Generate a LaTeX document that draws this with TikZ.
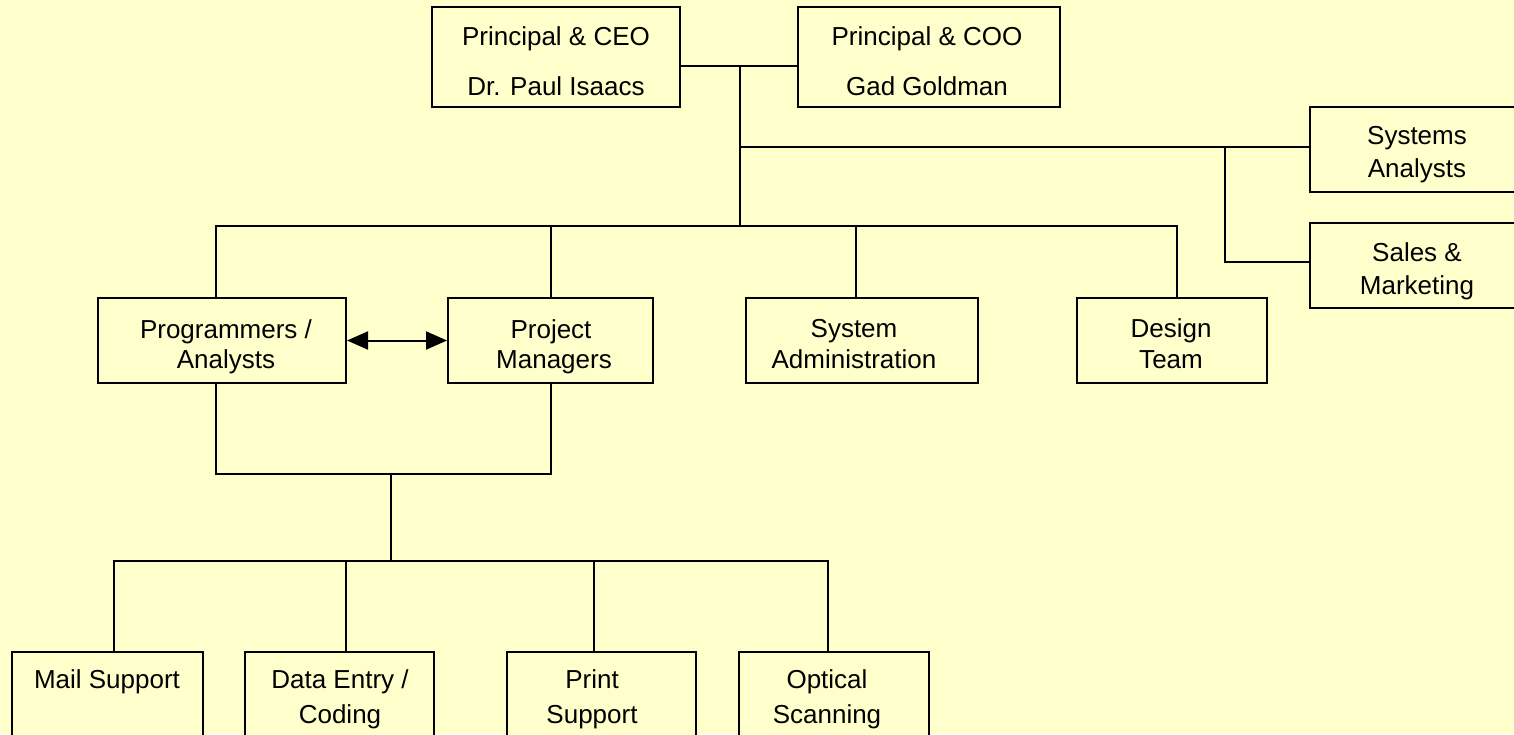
\documentclass[tikz,border=0pt]{standalone}
\usepackage{fontspec}
\setmainfont{Liberation Sans}
\usetikzlibrary{arrows.meta}
\definecolor{bg}{RGB}{255,255,204}
\begin{document}
\begin{tikzpicture}[x=0.5pt,y=-0.5pt,
  obox/.style={draw, line width=1pt, rectangle, inner sep=0pt, fill=bg},
  txt/.style={anchor=base, inner sep=0pt, font=\fontsize{13}{15}\selectfont},
  conn/.style={line width=1pt, line cap=rect}]
\fill[bg] (0,0) rectangle (1514,734);
\useasboundingbox (0,0) rectangle (1514,734);
% boxes
\node[obox, minimum width=124pt, minimum height=50pt] (ceo) at (556,57) {};
\node[obox, minimum width=131pt, minimum height=50pt] (coo) at (929,57) {};
\node[obox, minimum width=107pt, minimum height=42.5pt] (sysan) at (1417,149.5) {};
\node[obox, minimum width=107pt, minimum height=42.5pt] (sales) at (1417,265.5) {};
\node[obox, minimum width=124pt, minimum height=42.5pt] (pa) at (222,340.5) {};
\node[obox, minimum width=102.5pt, minimum height=42.5pt] (pm) at (550.5,340.5) {};
\node[obox, minimum width=116pt, minimum height=42.5pt] (sa) at (862,340.5) {};
\node[obox, minimum width=95pt, minimum height=42.5pt] (dt) at (1172,340.5) {};
\node[obox, minimum width=95.5pt, minimum height=59pt] (mail) at (107.5,711) {};
\node[obox, minimum width=94.5pt, minimum height=59pt] (data) at (339.5,711) {};
\node[obox, minimum width=94.5pt, minimum height=59pt] (print) at (601.5,711) {};
\node[obox, minimum width=95pt, minimum height=59pt] (optical) at (834,711) {};
% junctions
\coordinate (j0) at (740,66);
\coordinate (j1) at (740,147);
\coordinate (j2) at (740,226);
\coordinate (j3) at (1225,147);
\coordinate (j4) at (1225,262);
\coordinate (t1) at (216,226);
\coordinate (t2) at (551,226);
\coordinate (t3) at (856,226);
\coordinate (t4) at (1177,226);
\coordinate (b1) at (216,474);
\coordinate (b2) at (551,474);
\coordinate (m1) at (391,474);
\coordinate (m2) at (391,561);
\coordinate (l1) at (114,561);
\coordinate (l2) at (346,561);
\coordinate (l3) at (594,561);
\coordinate (l4) at (828,561);
% connectors
\draw[conn] (ceo.east |- j0) -- (coo.west |- j0);
\draw[conn] (j0) -- (j2);
\draw[conn] (j1) -- (sysan.west |- j1);
\draw[conn] (j3) -- (j4) -- (sales.west |- j4);
\draw[conn] (t1) -- (t4);
\draw[conn] (t1) -- (t1 |- pa.north);
\draw[conn] (t2) -- (t2 |- pm.north);
\draw[conn] (t3) -- (t3 |- sa.north);
\draw[conn] (t4) -- (t4 |- dt.north);
\draw[conn] (b1 |- pa.south) -- (b1) -- (b2) -- (b2 |- pm.south);
\draw[conn] (m1) -- (m2);
\draw[conn] (l1) -- (l4);
\draw[conn] (l1) -- (l1 |- mail.north);
\draw[conn] (l2) -- (l2 |- data.north);
\draw[conn] (l3) -- (l3 |- print.north);
\draw[conn] (l4) -- (l4 |- optical.north);
\draw[line width=1pt, {Triangle[length=10.5pt,width=9pt]}-{Triangle[length=10.5pt,width=9pt]}] (pa.east) -- (pm.west);
% texts
\node[txt] (ceo1) at (556,45) {Principal \& CEO};
\node[txt] (ceo2) at (556,95) {Dr. Paul Isaacs};
\node[txt] (coo1) at (927,45) {Principal \& COO};
\node[txt] (coo2) at (927,95) {Gad Goldman};
\node[txt] (sysan1) at (1417,144) {Systems};
\node[txt] (sysan2) at (1417,177) {Analysts};
\node[txt] (sales1) at (1417,261) {Sales \&};
\node[txt] (sales2) at (1417,294) {Marketing};
\node[txt] (pa1) at (226,338) {Programmers /};
\node[txt] (pa2) at (226,368) {Analysts};
\node[txt] (pm1) at (551,338) {Project};
\node[txt] (pm2) at (554,368) {Managers};
\node[txt] (sa1) at (854,337) {System};
\node[txt] (sa2) at (854,368) {Administration};
\node[txt] (dt1) at (1171,337) {Design};
\node[txt] (dt2) at (1171,368) {Team};
\node[txt] (mail1) at (107,688) {Mail Support};
\node[txt] (data1) at (340,688) {Data Entry /};
\node[txt] (data2) at (340,723) {Coding};
\node[txt] (print1) at (592,688) {Print};
\node[txt] (print2) at (592,723) {Support};
\node[txt] (optical1) at (827,688) {Optical};
\node[txt] (optical2) at (827,723) {Scanning};
\end{tikzpicture}
\end{document}
